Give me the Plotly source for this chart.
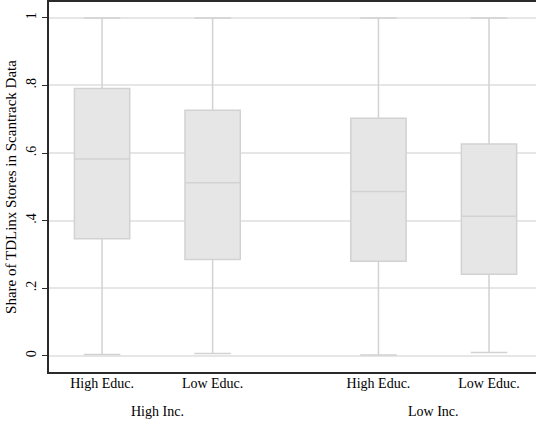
import plotly.graph_objects as go

# Box-plot summary statistics by income / education group
groups = ["High Educ.", "Low Educ.", "High Educ.", "Low Educ."]
income = ["High Inc.", "Low Inc."]
positions = [1.0, 2.0, 3.5, 4.5]
q1 = [0.346, 0.285, 0.280, 0.241]
median = [0.582, 0.512, 0.486, 0.413]
q3 = [0.791, 0.727, 0.703, 0.627]
lower = [0.004, 0.007, 0.002, 0.010]
upper = [1.0, 1.0, 1.0, 1.0]
ytick_vals = [0, 0.2, 0.4, 0.6, 0.8, 1.0]
ytick_text = ["0", ".2", ".4", ".6", ".8", "1"]

FONT = "Liberation Serif"

fig = go.Figure()
for i in range(len(positions)):
    fig.add_trace(go.Box(
        x=[positions[i]],
        q1=[q1[i]], median=[median[i]], q3=[q3[i]],
        lowerfence=[lower[i]], upperfence=[upper[i]],
        width=0.5,
        whiskerwidth=0.66,
        fillcolor="#e6e6e6",
        line=dict(color="#d2d2d2", width=1.5),
        boxpoints=False,
        hoverinfo="skip",
        showlegend=False,
    ))

fig.update_layout(
    width=536, height=424,
    margin=dict(l=49, r=0, t=2, b=52),
    paper_bgcolor="white", plot_bgcolor="white",
    font=dict(family=FONT, size=14, color="black"),
    showlegend=False,
    xaxis=dict(
        range=[0.52, 4.925],
        tickmode="array", tickvals=positions, ticktext=groups,
        ticks="", showgrid=False, zeroline=False,
        showline=True, linecolor="#2a2a2a", linewidth=2, mirror=True,
        tickfont=dict(family=FONT, size=14),
        ticklabelstandoff=-3,
    ),
    yaxis=dict(
        range=[-0.048, 1.047],
        tickmode="array", tickvals=ytick_vals, ticktext=ytick_text,
        tickangle=-90,
        ticks="outside", ticklen=5, tickcolor="#2a2a2a",
        showgrid=True, gridcolor="#e6e6e6", gridwidth=1.5,
        zeroline=False,
        showline=True, linecolor="#2a2a2a", linewidth=2,
        tickfont=dict(family=FONT, size=14),
        title=dict(text="Share of TDLinx Stores in Scantrack Data",
                   font=dict(family=FONT, size=15), standoff=4),
    ),
)

# Income group labels beneath the education categories
for label, (a, b) in zip(income, [(positions[0], positions[1]), (positions[2], positions[3])]):
    fig.add_annotation(
        x=(a + b) / 2, xref="x",
        y=-0.106, yref="paper",
        text=label, showarrow=False,
        font=dict(family=FONT, size=14),
        xanchor="center", yanchor="middle",
    )

fig.write_html("out.html")
